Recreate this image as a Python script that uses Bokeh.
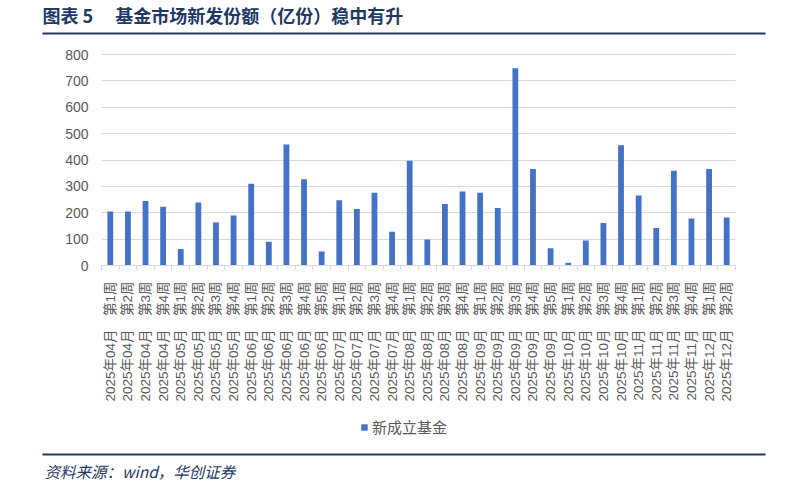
import math
from bokeh.plotting import figure
from bokeh.models import (Range1d, FixedTicker, Label, BoxAnnotation, Legend,
                          LegendItem, ColumnDataSource)
from bokeh.embed import file_html
from bokeh.resources import INLINE

# ---------------- data ----------------
categories = [
    "2025年04月第1周", "2025年04月第2周", "2025年04月第3周", "2025年04月第4周",
    "2025年05月第1周", "2025年05月第2周", "2025年05月第3周", "2025年05月第4周",
    "2025年06月第1周", "2025年06月第2周", "2025年06月第3周", "2025年06月第4周", "2025年06月第5周",
    "2025年07月第1周", "2025年07月第2周", "2025年07月第3周", "2025年07月第4周",
    "2025年08月第1周", "2025年08月第2周", "2025年08月第3周", "2025年08月第4周",
    "2025年09月第1周", "2025年09月第2周", "2025年09月第3周", "2025年09月第4周", "2025年09月第5周",
    "2025年10月第1周", "2025年10月第2周", "2025年10月第3周", "2025年10月第4周",
    "2025年11月第1周", "2025年11月第2周", "2025年11月第3周", "2025年11月第4周",
    "2025年12月第1周", "2025年12月第2周",
]
new_fund_shares = [205, 205, 245, 223, 63, 239, 163, 190, 310, 90, 459, 327, 53,
                   247, 214, 276, 128, 397, 99, 233, 281, 276, 218, 748, 366, 65,
                   10, 95, 161, 456, 265, 142, 359, 178, 366, 182]
y_ticks = [0, 100, 200, 300, 400, 500, 600, 700, 800]
series_name = "新成立基金"
title_text = "图表 5　  基金市场新发份额（亿份）稳中有升"
source_text = "资料来源：wind，华创证券"

# ---------------- styling / layout ----------------
BAR = "#4472C4"
NAVY = "#1F3864"
GRAY = "#595959"
LIGHT = "#D9D9D9"
CJK = "Noto Sans CJK SC"
MIXED = "Liberation Sans, Noto Sans CJK SC"
W, H = 795, 495
# plot area of the chart in page pixels
PL, PR, PT, PB = 101, 735, 54, 265

n = len(categories)
y_max = y_ticks[-1]
# ranges chosen so the frame fills the whole canvas and the plot area sits at PL..PR / PT..PB
xpx = (PR - PL) / n
ypx = (PB - PT) / y_max
x_start = -0.5 - PL / xpx
x_end = n - 0.5 + (W - PR) / xpx
y_start = -(H - PB) / ypx
y_end = y_max + PT / ypx


def sy(py):  # page y -> screen units measured from the frame bottom
    return H - py


xs = list(range(n))
labels = {i: c.replace("月第", "月　第") for i, c in enumerate(categories)}
src = ColumnDataSource(dict(x=xs, v=new_fund_shares))

p = figure(width=W, height=H,
           x_range=Range1d(x_start, x_end), y_range=Range1d(y_start, y_end),
           output_backend="svg", toolbar_location=None,
           min_border=0, min_border_left=0, min_border_right=0,
           min_border_top=0, min_border_bottom=0)
p.outline_line_color = None
p.background_fill_color = "white"
p.border_fill_color = "white"

# horizontal gridlines limited to the plot area
p.xgrid.grid_line_color = None
yg = p.ygrid[0]
yg.ticker = FixedTicker(ticks=y_ticks)
yg.grid_line_color = LIGHT
yg.grid_line_width = 1
if "cross_bounds" in yg.properties():
    yg.cross_bounds = (-0.5, n - 0.5)
else:
    yg.grid_line_color = None
    p.segment(x0=[-0.5] * len(y_ticks), x1=[n - 0.5] * len(y_ticks),
              y0=y_ticks, y1=y_ticks, line_color=LIGHT, line_width=1)

r = p.vbar(x="x", top="v", width=0.33, source=src, fill_color=BAR, line_color=None)

# x axis drawn at y = 0
xa = p.xaxis[0]
xa.fixed_location = 0
xa.bounds = (-0.5, n - 0.5)
xa.ticker = FixedTicker(ticks=xs, minor_ticks=[i - 0.5 for i in range(n + 1)])
xa.major_label_overrides = labels
xa.major_label_orientation = math.pi / 2
xa.major_tick_line_color = None
xa.major_tick_out = 0
xa.major_tick_in = 0
xa.minor_tick_out = 5
xa.minor_tick_in = 0
xa.minor_tick_line_color = LIGHT
xa.axis_line_color = LIGHT
xa.major_label_standoff = 11
xa.major_label_text_font = MIXED
xa.major_label_text_font_size = "13.5px"
xa.major_label_text_color = GRAY

# y axis drawn at the left edge of the plot area
ya = p.yaxis[0]
ya.fixed_location = -0.5
ya.bounds = (0, y_max)
ya.ticker = FixedTicker(ticks=y_ticks)
ya.axis_line_color = None
ya.major_tick_line_color = None
ya.minor_tick_line_color = None
ya.major_tick_out = 0
ya.major_label_standoff = 13
ya.major_label_text_font = "Liberation Sans"
ya.major_label_text_font_size = "14px"
ya.major_label_text_color = GRAY

# legend
leg = Legend(items=[LegendItem(label=series_name, renderers=[r])],
             location=(360, sy(437)), orientation="horizontal",
             padding=0, margin=0, spacing=0,
             glyph_width=8, glyph_height=8, label_standoff=4,
             label_height=15, label_text_font=CJK,
             label_text_font_size="15px", label_text_color=GRAY,
             border_line_color=None, background_fill_alpha=0)
p.add_layout(leg)

# title, rules, source
p.add_layout(Label(x=42, y=sy(14), x_units="screen", y_units="screen",
                   text=title_text, text_font=CJK, text_font_style="bold",
                   text_font_size="18px", text_color=NAVY,
                   text_align="left", text_baseline="middle"))
for top_px in (32, 453):
    p.add_layout(BoxAnnotation(left=42, right=765, top=sy(top_px), bottom=sy(top_px + 2),
                               left_units="screen", right_units="screen",
                               top_units="screen", bottom_units="screen",
                               fill_color=NAVY, fill_alpha=1, line_color=None))
p.add_layout(Label(x=44, y=sy(470), x_units="screen", y_units="screen",
                   text=source_text, text_font=CJK, text_font_style="italic",
                   text_font_size="15.5px", text_color=NAVY,
                   text_align="left", text_baseline="middle"))

open("out.html", "w").write(file_html(p, INLINE))
